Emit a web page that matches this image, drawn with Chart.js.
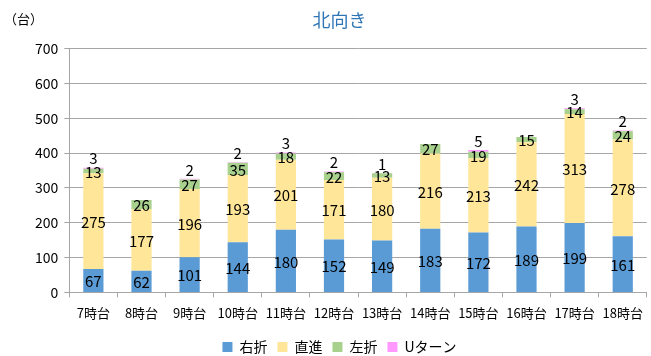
<!DOCTYPE html>
<html>
<head>
<meta charset="utf-8">
<script src="https://cdn.jsdelivr.net/npm/chart.js@4"></script>
<style>
  html, body { margin: 0; padding: 0; background: #fff; }
  #wrap { width: 651px; height: 356px; }
</style>
</head>
<body>
<div id="wrap"><canvas id="northChart" width="651" height="356"></canvas></div>
<script>
const hours = ["7時台", "8時台", "9時台", "10時台", "11時台", "12時台", "13時台", "14時台", "15時台", "16時台", "17時台", "18時台"];
const rightTurn = [67, 62, 101, 144, 180, 152, 149, 183, 172, 189, 199, 161];
const straight = [275, 177, 196, 193, 201, 171, 180, 216, 213, 242, 313, 278];
const leftTurn = [13, 26, 27, 35, 18, 22, 13, 27, 19, 15, 14, 24];
const uTurn = [3, 0, 2, 2, 3, 2, 1, 0, 5, 0, 3, 2];
const yTicks = [0, 100, 200, 300, 400, 500, 600, 700];

const FONT = "'Noto Sans CJK JP', 'Noto Sans', sans-serif";

// value labels: inside each segment, the last series sits above the stack
const segmentLabels = {
  id: "segmentLabels",
  afterDatasetsDraw(chart) {
    const ctx = chart.ctx;
    ctx.save();
    ctx.font = "15px " + FONT;
    ctx.fillStyle = "#000";
    ctx.textAlign = "center";
    ctx.textBaseline = "middle";
    chart.data.datasets.forEach((ds, di) => {
      const meta = chart.getDatasetMeta(di);
      const last = di === chart.data.datasets.length - 1;
      meta.data.forEach((bar, i) => {
        const v = ds.data[i];
        if (!v) return;
        const y = last ? bar.y - 9 : (bar.y + bar.base) / 2 + 1;
        ctx.fillText(String(v), bar.x, y);
      });
    });
    ctx.restore();
  }
};

// unit caption in the top-left corner
const unitCaption = {
  id: "unitCaption",
  afterDraw(chart) {
    const ctx = chart.ctx;
    ctx.save();
    ctx.font = "13px " + FONT;
    ctx.fillStyle = "#000";
    ctx.textAlign = "left";
    ctx.textBaseline = "middle";
    ctx.fillText("（台）", 4, 19);
    ctx.restore();
  }
};

new Chart(document.getElementById("northChart"), {
  type: "bar",
  data: {
    labels: hours,
    datasets: [
      { label: "右折", data: rightTurn, backgroundColor: "#5B9BD5" },
      { label: "直進", data: straight, backgroundColor: "#FFE699" },
      { label: "左折", data: leftTurn, backgroundColor: "#A9D18E" },
      { label: "Uターン", data: uTurn, backgroundColor: "#FF99FF" }
    ]
  },
  options: {
    responsive: false,
    animation: false,
    barPercentage: 0.42,
    categoryPercentage: 1,
    layout: { padding: { left: 29, right: 1, top: 0, bottom: -8 } },
    plugins: {
      title: {
        display: true,
        text: "北向き",
        color: "#2E75B6",
        font: { family: FONT, size: 18, weight: "normal" },
        padding: { top: 9, bottom: 18 }
      },
      legend: {
        position: "bottom",
        labels: {
          boxWidth: 10,
          boxHeight: 10,
          color: "#000",
          font: { family: FONT, size: 14 },
          padding: 10
        }
      },
      tooltip: { enabled: false }
    },
    scales: {
      x: {
        stacked: true,
        grid: { display: true, drawOnChartArea: false, color: "#A6A6A6", tickLength: 5, offset: true },
        border: { color: "#A6A6A6", width: 1 },
        ticks: { color: "#000", font: { family: FONT, size: 13 }, maxRotation: 0, autoSkip: false, padding: 8 },
        afterFit(axis) { axis.height += 1; }
      },
      y: {
        stacked: true,
        min: 0,
        max: 700,
        afterBuildTicks(axis) { axis.ticks = yTicks.map(v => ({ value: v })); },
        grid: { color: "#A6A6A6", tickLength: 5 },
        border: { color: "#A6A6A6", width: 1 },
        ticks: { color: "#000", font: { family: FONT, size: 14 }, padding: 6 }
      }
    }
  },
  plugins: [segmentLabels, unitCaption]
});
</script>
</body>
</html>
